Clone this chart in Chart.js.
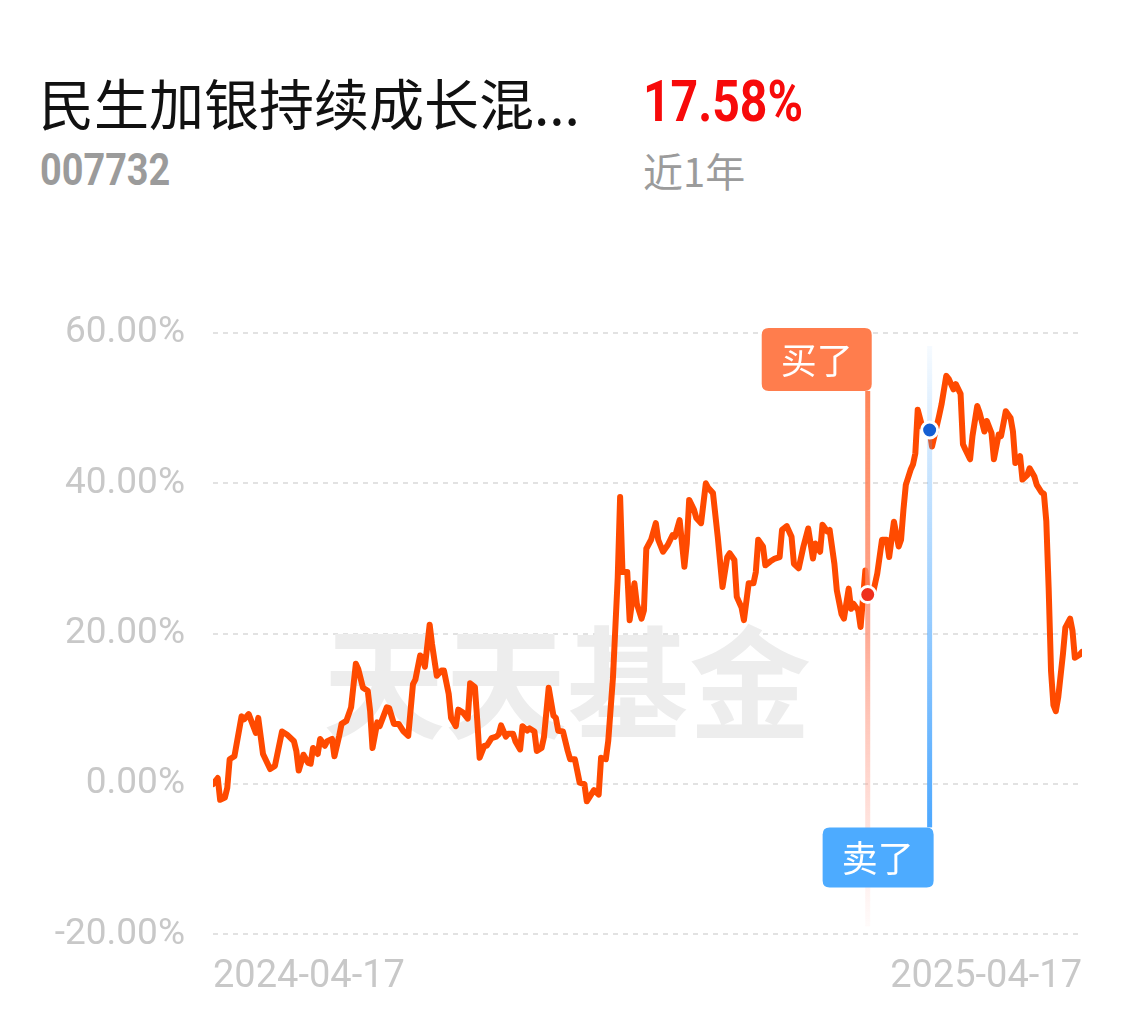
<!DOCTYPE html>
<html><head><meta charset="utf-8">
<script src="https://cdn.jsdelivr.net/npm/chart.js@4.4.1/dist/chart.umd.min.js"></script>
<style>
html,body{margin:0;padding:0;background:#fff;width:1135px;height:1022px;overflow:hidden;}
.t{position:absolute;white-space:nowrap;line-height:1;}
#title{left:39px;top:61px;font:400 55px "Noto Sans CJK SC",sans-serif;color:#111;}
#code{left:40px;top:144px;font:700 44px Roboto,sans-serif;color:#9b9b9b;transform:scaleX(0.86);transform-origin:left top;}
#ret{left:643px;top:67px;font:700 58px Roboto,sans-serif;color:#f70a0a;transform:scaleX(0.83);transform-origin:left top;}
#period{left:643px;top:141px;font:400 40px "Noto Sans CJK SC",sans-serif;color:#9b9b9b;}
canvas{position:absolute;left:0;top:0;}
</style></head>
<body>
<div id="title" class="t">民生加银持续成长混...</div>
<div id="code" class="t">007732</div>
<div id="ret" class="t">17.58%</div>
<div id="period" class="t">近1年</div>
<canvas id="c" width="1135" height="1022"></canvas>
<script>
// day offsets from 2024-04-17
const days = [0,2,3,5,6,7,9,12,13,15,18,19,21,24,26,29,31,34,35,36,38,40,41,42,44,45,47,48,50,51,53,54,56,58,60,61,63,65,66,67,69,70,73,74,76,78,80,82,84,85,87,88,89,91,92,94,96,97,99,100,102,103,105,107,108,110,111,112,114,115,117,119,120,121,123,124,126,127,129,130,132,133,135,136,138,139,141,143,144,145,147,149,150,152,154,156,157,159,160,162,163,165,166,168,170,171,172,174,175,177,178,180,181,182,184,186,187,189,191,193,194,196,198,199,200,202,203,205,207,208,210,212,214,216,217,219,220,222,223,225,227,228,229,231,232,234,236,238,239,241,243,244,246,248,250,252,253,255,256,258,259,261,262,264,265,267,268,269,271,272,274,275,277,279,281,283,284,286,288,289,290,291,293,294,295,296,298,299,301,302,305,306,308,309,311,312,314,315,316,318,319,321,322,324,325,327,328,330,331,333,335,336,337,339,340,342,343,345,346,348,349,350,351,352,353,354,355,357,358,360,361,362,364,365];
// cumulative return (%)
const returns = [0.0,0.8,-2.1,-1.8,-0.5,3.3,3.7,9.0,8.6,9.3,6.8,8.8,4.0,2.0,2.4,7.0,6.6,5.7,4.4,1.8,3.9,2.8,2.7,4.8,4.0,6.0,5.1,5.7,6.0,3.7,6.4,8.0,8.4,10.2,16.0,15.3,12.8,12.4,9.7,4.8,8.2,7.7,10.2,10.1,8.0,8.0,7.0,6.4,13.3,13.9,17.1,16.8,15.6,21.2,18.6,14.4,15.1,15.1,12.0,8.8,7.7,9.9,9.5,8.7,13.4,12.9,8.4,3.5,5.1,5.1,6.1,6.3,6.6,7.8,6.3,6.7,6.7,5.7,4.6,7.7,7.1,7.4,7.0,4.4,4.8,6.2,12.8,9.1,8.8,7.1,7.0,4.4,3.3,3.3,0.2,0.0,-2.3,-1.3,-0.8,-1.4,3.5,3.3,5.7,14.2,27.5,38.2,28.2,28.2,21.8,26.7,24.0,22.0,23.1,31.3,32.5,34.7,32.5,30.9,31.8,33.1,32.9,35.1,28.9,32.0,37.8,36.5,35.4,34.7,40.0,39.4,38.7,32.9,26.2,30.2,30.7,29.8,24.9,23.5,21.8,26.7,26.7,28.2,32.5,31.6,29.1,29.6,30.0,30.2,33.8,34.3,32.9,29.3,28.7,31.6,34.0,30.0,32.0,30.9,34.5,33.6,33.8,29.3,25.8,22.6,22.0,26.0,23.3,24.0,23.1,20.9,28.4,25.2,25.1,28.0,32.5,32.5,30.2,34.9,31.6,32.5,36.5,39.8,41.8,42.5,44.0,49.8,47.4,47.6,47.1,44.9,49.0,50.5,54.3,53.9,52.5,53.2,51.9,45.2,44.5,43.2,46.3,50.3,49.4,46.9,48.3,46.7,43.2,46.5,46.3,49.6,48.7,46.9,42.7,43.6,40.5,41.1,42.0,40.9,39.8,38.8,38.6,35.0,26.0,15.0,10.5,9.7,11.5,17.3,20.8,22.0,20.4,16.8,17.2,17.58];
const xTickValues = [0, 365];
const xTickLabels = ['2024-04-17', '2025-04-17'];
const yTickValues = [-20, 0, 20, 40, 60];
const tradeDays = [275, 301];
const tradeValues = [25.2, 47.1];
const tradeLabels = ['买了', '卖了'];
const watermarkText = '天天基金';

const seriesData = days.map((d, i) => ({x: d, y: returns[i]}));

function roundRect(ctx, x, y, w, h, r) {
  ctx.beginPath();
  ctx.moveTo(x + r, y);
  ctx.lineTo(x + w - r, y); ctx.quadraticCurveTo(x + w, y, x + w, y + r);
  ctx.lineTo(x + w, y + h - r); ctx.quadraticCurveTo(x + w, y + h, x + w - r, y + h);
  ctx.lineTo(x + r, y + h); ctx.quadraticCurveTo(x, y + h, x, y + h - r);
  ctx.lineTo(x, y + r); ctx.quadraticCurveTo(x, y, x + r, y);
  ctx.closePath();
}

const watermark = {
  id: 'watermark',
  beforeDatasetsDraw(chart) {
    const {ctx, chartArea: a} = chart;
    ctx.save();
    ctx.fillStyle = '#ededed';
    ctx.font = '700 122px "Noto Sans CJK SC"';
    ctx.textBaseline = 'middle';
    ctx.textAlign = 'left';
    ctx.fillText(watermarkText, a.left + 110, a.top + 350);
    ctx.restore();
  }
};

const trades = {
  id: 'trades',
  afterDatasetsDraw(chart) {
    const {ctx, chartArea: a, scales: {x, y}} = chart;
    ctx.save();
    // buy
    const bx = x.getPixelForValue(tradeDays[0]);
    const by = y.getPixelForValue(tradeValues[0]);
    const bTop = a.top + 58, bBot = a.bottom - 8;
    let g = ctx.createLinearGradient(0, bTop, 0, bBot);
    g.addColorStop(0, 'rgba(255,125,77,0.95)');
    g.addColorStop(0.45, 'rgba(255,140,110,0.75)');
    g.addColorStop(1, 'rgba(255,170,160,0.05)');
    ctx.fillStyle = g;
    ctx.fillRect(bx - 2.5, bTop, 5, bBot - bTop);
    ctx.fillStyle = '#ff7d4d';
    roundRect(ctx, bx - 106, a.top - 5, 110, 63, 7);
    ctx.fill();
    ctx.fillStyle = '#fff';
    ctx.font = '36px "Noto Sans CJK SC"';
    ctx.textAlign = 'center';
    ctx.textBaseline = 'middle';
    ctx.fillText(tradeLabels[0], bx - 51, a.top + 27);

    // sell
    const sx = x.getPixelForValue(tradeDays[1]);
    const sy = y.getPixelForValue(tradeValues[1]);
    const sTop = a.top + 13, sBot = a.bottom - 107;
    g = ctx.createLinearGradient(0, sTop, 0, sBot);
    g.addColorStop(0, 'rgba(77,168,255,0.05)');
    g.addColorStop(1, 'rgba(77,168,255,1)');
    ctx.fillStyle = g;
    ctx.fillRect(sx - 2.5, sTop, 5, sBot - sTop);
    ctx.fillStyle = '#4dabff';
    roundRect(ctx, sx - 107, sBot, 111, 60, 7);
    ctx.fill();
    ctx.fillStyle = '#fff';
    ctx.fillText(tradeLabels[1], sx - 52, sBot + 31);

    // dots
    ctx.lineWidth = 3;
    ctx.strokeStyle = '#fff';
    ctx.beginPath(); ctx.arc(bx, by, 8, 0, Math.PI * 2);
    ctx.fillStyle = '#ef2f1c'; ctx.fill(); ctx.stroke();
    ctx.beginPath(); ctx.arc(sx, sy, 8, 0, Math.PI * 2);
    ctx.fillStyle = '#155fd3'; ctx.fill(); ctx.stroke();
    ctx.restore();
  }
};

new Chart(document.getElementById('c'), {
  type: 'line',
  data: {
    datasets: [{
      data: seriesData,
      borderColor: '#ff4a00',
      borderWidth: 6,
      pointRadius: 0,
      tension: 0,
      borderJoinStyle: 'round',
      borderCapStyle: 'round',
      fill: false
    }]
  },
  options: {
    responsive: false,
    animation: false,
    layout: {padding: {top: 333, right: 53, bottom: 2, left: 0}},
    plugins: {legend: {display: false}, tooltip: {enabled: false}},
    scales: {
      x: {
        type: 'linear', min: 0, max: 365,
        grid: {display: false, drawTicks: false},
        border: {display: false},
        afterBuildTicks(s) { s.ticks = xTickValues.map(v => ({value: v})); },
        ticks: {
          align: 'inner', maxRotation: 0, autoSkip: false, padding: 20,
          color: '#c8c8c8', font: {family: 'Roboto', size: 38},
          callback: (v, i) => xTickLabels[i]
        }
      },
      y: {
        min: -20, max: 60,
        afterBuildTicks(s) { s.ticks = yTickValues.map(v => ({value: v})); },
        afterFit(s) { s.width = 213; },
        grid: {color: '#e2e2e2', lineWidth: 2, drawTicks: false},
        border: {display: false, dash: [5, 5]},
        ticks: {
          padding: 28, color: '#c8c8c8', font: {family: 'Roboto', size: 37},
          callback: v => v.toFixed(2) + '%'
        }
      }
    }
  },
  plugins: [watermark, trades]
});
</script>
</body></html>
